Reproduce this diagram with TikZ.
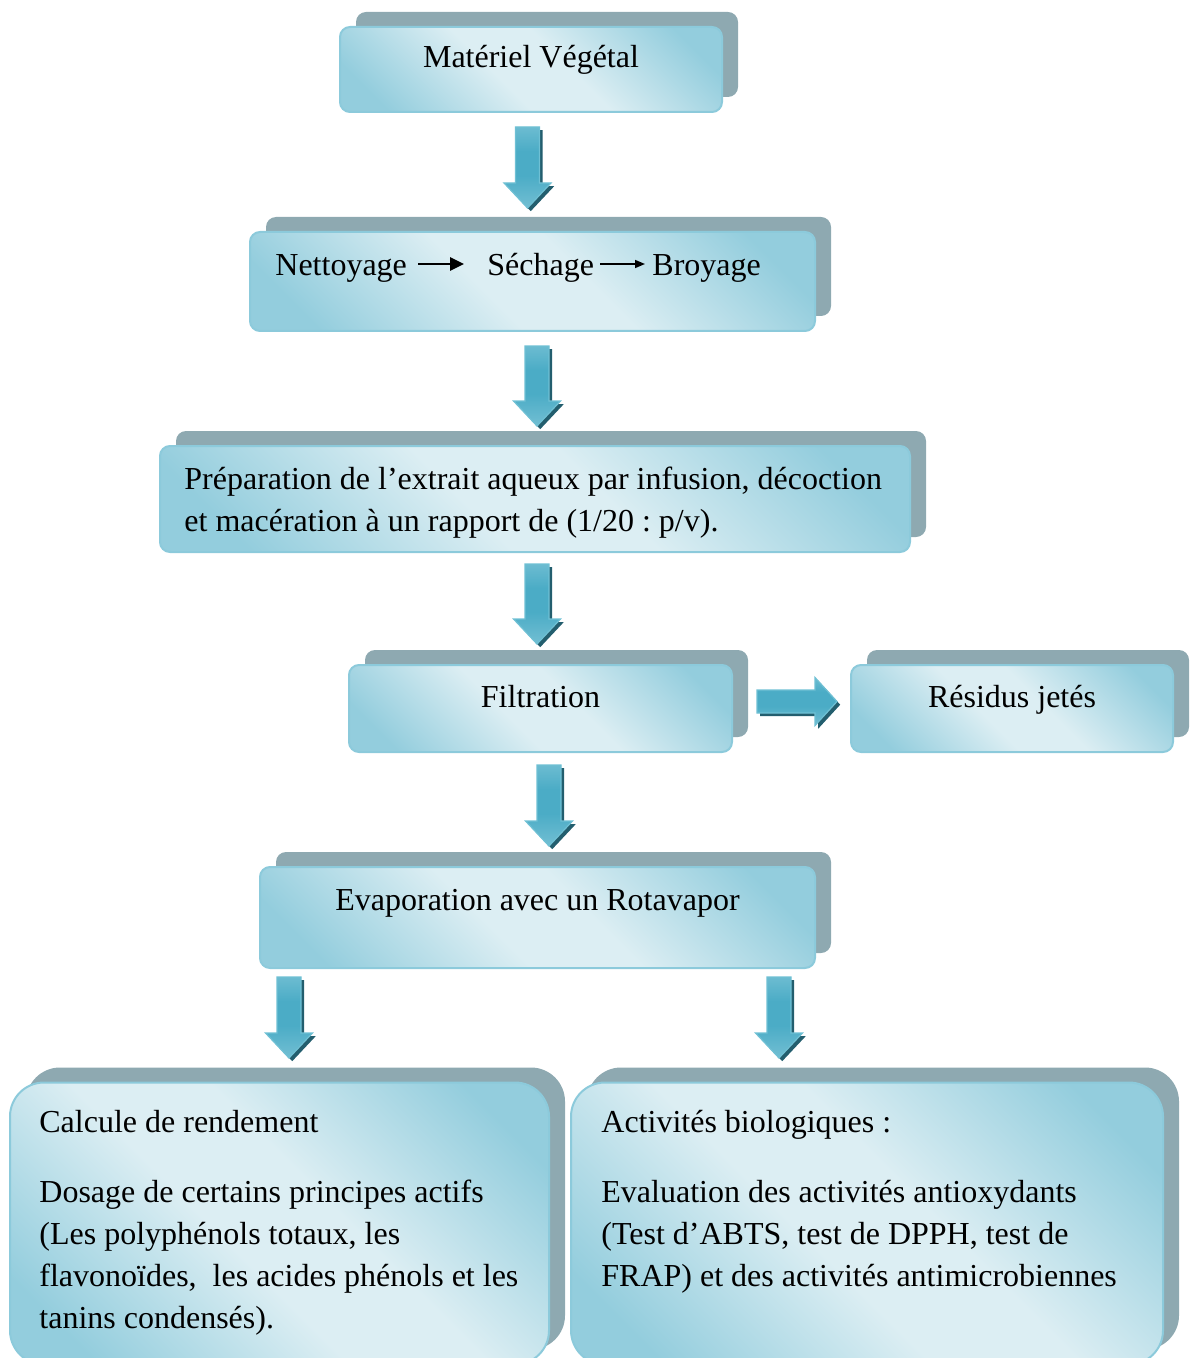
\documentclass[tikz,border=0pt]{standalone}
\usepackage{fontspec}
\setmainfont{Liberation Serif}
\usepackage{tikz}
\usetikzlibrary{shadows, arrows.meta, calc}
\frenchspacing

\definecolor{boiteclair}{HTML}{DCEEF3}
\definecolor{boitefonce}{HTML}{93CDDD}
\definecolor{boitebord}{HTML}{8CCADB}
\definecolor{ombregris}{HTML}{8EA9B1}
\definecolor{flechefonce}{HTML}{4BACC6}
\definecolor{flecheclair}{HTML}{A3D6E3}
\definecolor{flechebord}{HTML}{6FC0D4}
\definecolor{flecheombre}{HTML}{235E6E}

\pgfdeclarehorizontalshading{boiteshade}{100bp}{color(0bp)=(boitefonce); color(22bp)=(boitefonce); color(44bp)=(boiteclair); color(56bp)=(boiteclair); color(78bp)=(boitefonce); color(100bp)=(boitefonce)}
\pgfdeclareverticalshading{flecheshade}{100bp}{color(0bp)=(flecheclair); color(45bp)=(flechefonce); color(60bp)=(flechefonce); color(100bp)=(flecheclair)}

% block arrows: #1 = start, #2 = tip
\newcommand{\flechebas}[2]{%
  \path[flechecorps] ($(#1)+(-12,0)$) -- ($(#1)+(12,0)$) -- ($(#2)+(12,-25)$)
    -- ($(#2)+(23.5,-25)$) -- (#2) -- ($(#2)+(-23.5,-25)$) -- ($(#2)+(-12,-25)$) -- cycle;}
\newcommand{\flechedroite}[2]{%
  \path[flechecorps] ($(#1)+(0,-11.5)$) -- ($(#2)+(-22,-11.5)$) -- ($(#2)+(-22,-24)$)
    -- (#2) -- ($(#2)+(-22,24)$) -- ($(#2)+(-22,11.5)$) -- ($(#1)+(0,11.5)$) -- cycle;}

\begin{document}
\begin{tikzpicture}[
    x=0.5pt, y=-0.5pt,
    font=\fontsize{16}{21}\selectfont,
    etape/.style={rectangle, rounded corners=5pt, draw=boitebord, line width=1pt,
        shade, shading=boiteshade, shading angle=45, inner xsep=0pt, inner ysep=0pt,
        general shadow={shadow xshift=8pt, shadow yshift=7.5pt, fill=ombregris}},
    grandeetape/.style={etape, rounded corners=17pt},
    mot/.style={inner sep=0pt},
    texte/.style={inner sep=0pt, text width=420pt, align=flush left},
    flechecorps/.style={shade, shading=flecheshade, draw=flechebord, line width=0.6pt,
        general shadow={shadow xshift=1.6pt, shadow yshift=-1.6pt, fill=flecheombre}},
    flecheepaisse/.style={-{Triangle[length=7pt,width=6.5pt]}, line width=1.4pt},
    flechemince/.style={-{Triangle[length=5pt,width=4pt]}, line width=0.8pt}
]
\useasboundingbox (0,0) rectangle (1189,1358);
\clip (0,0) rectangle (1189,1358);

% --- Boxes ---
\node[etape, minimum width=191pt, text height=20.5pt, text depth=22pt] (materiel) at (531,69.5) {Matériel Végétal};

\node[etape, minimum width=282.5pt, minimum height=49.5pt] (pretraitement) at (532.5,281.5) {};
\node[mot, anchor=base west] (nettoyage) at (275,276) {Nettoyage};
\node[mot, anchor=base west] (sechage) at (487,276) {Séchage};
\node[mot, anchor=base west] (broyage) at (652,276) {Broyage};

\node[etape, minimum width=375pt, minimum height=53pt] (extraction) at (535,499) {};
\node[texte, anchor=base west] (extraction-txt) at (184,489)
    {Préparation de l’extrait aqueux par infusion, décoction\\
     et macération à un rapport de (1/20 : p/v).};

\node[etape, minimum width=191.5pt, text height=21pt, text depth=22.5pt] (filtration) at (540.5,708.5) {Filtration};
\node[etape, minimum width=161pt, text height=21pt, text depth=22.5pt] (residus) at (1012,708.5) {Résidus jetés};

\node[etape, minimum width=277.5pt, text height=21.5pt, text depth=29pt] (evaporation) at (537.5,917.5) {Evaporation avec un Rotavapor};

\node[grandeetape, minimum width=269.5pt, minimum height=141pt] (rendement) at (279.5,1223.5) {};
\node[texte, anchor=base west] (rendement-txt) at (39,1132)
    {Calcule de rendement\\[14pt]
     Dosage de certains principes actifs\\
     (Les polyphénols totaux, les\\
     flavonoïdes,~ les acides phénols et les\\
     tanins condensés).};

\node[grandeetape, minimum width=296pt, minimum height=141pt] (activites) at (867,1223.5) {};
\node[texte, anchor=base west] (activites-txt) at (601,1132)
    {Activités biologiques :\\[14pt]
     Evaluation des activités antioxydants\\
     (Test d’ABTS, test de DPPH, test de\\
     FRAP) et des activités antimicrobiennes};

% --- Arrows inside the second box ---
\draw[flecheepaisse] ([xshift=5.5pt,yshift=6pt]nettoyage.base east) -- ([xshift=-11.5pt,yshift=6pt]sechage.base west);
\draw[flechemince] ([xshift=3pt,yshift=6pt]sechage.base east) -- ([xshift=-3.5pt,yshift=6pt]broyage.base west);

% --- Block arrows ---
\coordinate (f1a) at (527.5,127);  \coordinate (f1b) at (527.5,208);
\coordinate (f2a) at (537,346);    \coordinate (f2b) at (537,426);
\coordinate (f3a) at (537,564);    \coordinate (f3b) at (537,644);
\coordinate (f4a) at (757,701.5);  \coordinate (f4b) at (837,701.5);
\coordinate (f5a) at (549,765);    \coordinate (f5b) at (549,846);
\coordinate (f6a) at (289,977);    \coordinate (f6b) at (289,1058);
\coordinate (f7a) at (779,977);    \coordinate (f7b) at (779,1058);

\flechebas{f1a}{f1b}
\flechebas{f2a}{f2b}
\flechebas{f3a}{f3b}
\flechedroite{f4a}{f4b}
\flechebas{f5a}{f5b}
\flechebas{f6a}{f6b}
\flechebas{f7a}{f7b}

\end{tikzpicture}
\end{document}
